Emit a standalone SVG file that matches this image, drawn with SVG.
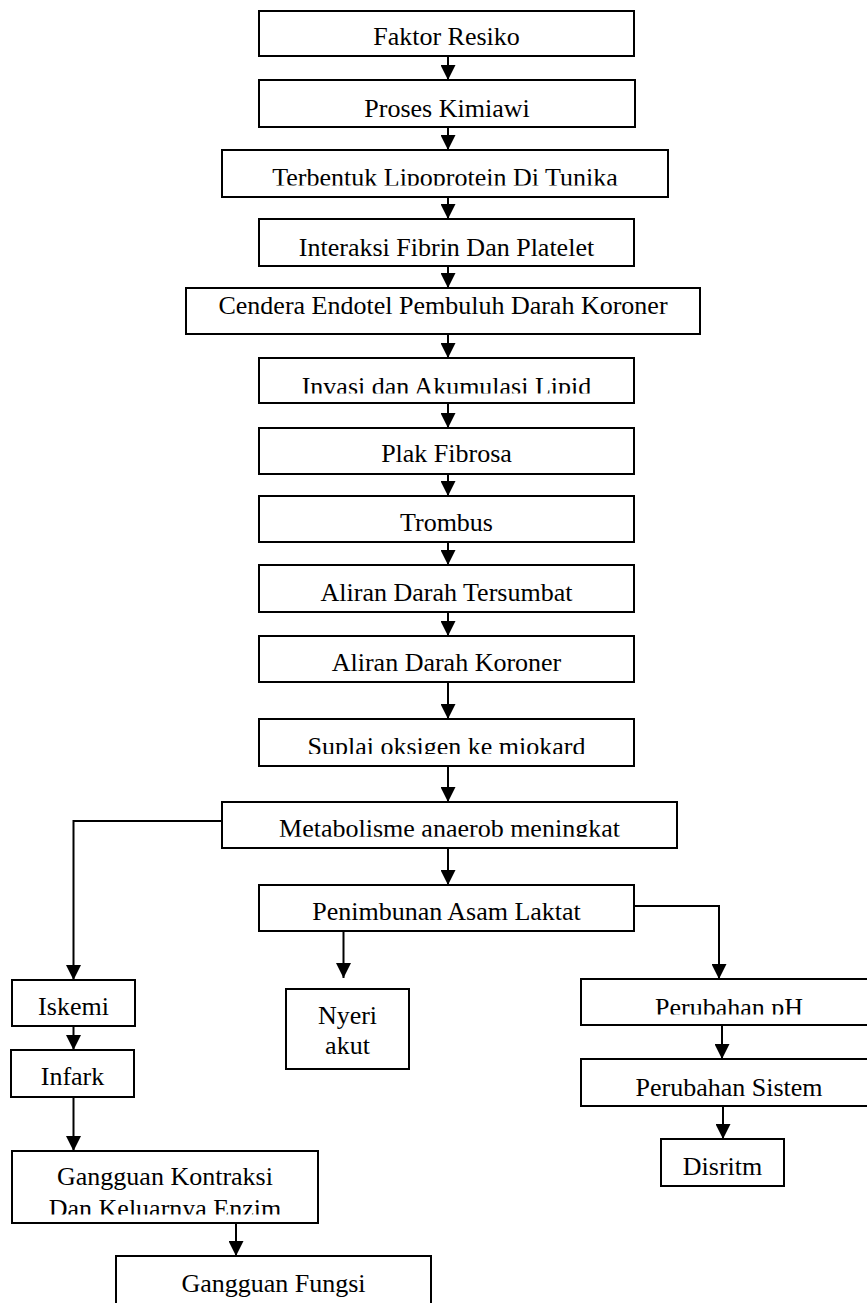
<svg xmlns="http://www.w3.org/2000/svg" width="867" height="1303" viewBox="0 0 867 1303">
<style>
rect.b{fill:#fff;stroke:#000;stroke-width:2}
text{font-family:"Liberation Serif","Times New Roman",serif;font-size:26px;fill:#000;text-anchor:middle}
.c path{fill:none;stroke:#000;stroke-width:2;marker-end:url(#ah)}
</style>
<defs>
<marker id="ah" viewBox="0 0 15 15" refX="15" refY="7.5" markerWidth="15" markerHeight="15" markerUnits="userSpaceOnUse" orient="auto">
<path d="M0,0 L15,7.5 L0,15 z" fill="#000"/>
</marker>
<clipPath id="k3" clipPathUnits="userSpaceOnUse"><rect x="222" y="150" width="446" height="35.5"/></clipPath>
<clipPath id="k6" clipPathUnits="userSpaceOnUse"><rect x="259" y="358" width="375" height="35.5"/></clipPath>
<clipPath id="k11" clipPathUnits="userSpaceOnUse"><rect x="259" y="719" width="375" height="35"/></clipPath>
<clipPath id="k12" clipPathUnits="userSpaceOnUse"><rect x="222" y="802" width="455" height="34.8"/></clipPath>
<clipPath id="kph" clipPathUnits="userSpaceOnUse"><rect x="581" y="979" width="296" height="35.5"/></clipPath>
<clipPath id="kgk" clipPathUnits="userSpaceOnUse"><rect x="12" y="1151" width="306" height="63.5"/></clipPath>
</defs>

<g id="n1"><rect class="b" x="259" y="11" width="375" height="45"/><text x="446.5" y="45">Faktor Resiko</text></g>
<g id="n2"><rect class="b" x="259" y="80" width="376" height="47"/><text x="447" y="117">Proses Kimiawi</text></g>
<g id="n3"><rect class="b" x="222" y="150" width="446" height="47"/><text x="445" y="186" clip-path="url(#k3)">Terbentuk Lipoprotein Di Tunika</text></g>
<g id="n4"><rect class="b" x="259" y="219" width="375" height="47"/><text x="446.5" y="256">Interaksi Fibrin Dan Platelet</text></g>
<g id="n5"><rect class="b" x="186" y="288" width="514" height="46"/><text x="443" y="314">Cendera Endotel Pembuluh Darah Koroner</text></g>
<g id="n6"><rect class="b" x="259" y="358" width="375" height="45"/><text x="446.5" y="394.5" clip-path="url(#k6)">Invasi dan Akumulasi Lipid</text></g>
<g id="n7"><rect class="b" x="259" y="428" width="375" height="46"/><text x="446.5" y="462">Plak Fibrosa</text></g>
<g id="n8"><rect class="b" x="259" y="496" width="375" height="46"/><text x="446.5" y="531">Trombus</text></g>
<g id="n9"><rect class="b" x="259" y="565" width="375" height="47"/><text x="446.5" y="601">Aliran Darah Tersumbat</text></g>
<g id="n10"><rect class="b" x="259" y="636" width="375" height="46"/><text x="446.5" y="671">Aliran Darah Koroner</text></g>
<g id="n11"><rect class="b" x="259" y="719" width="375" height="47"/><text x="446.5" y="754.5" clip-path="url(#k11)">Suplai oksigen ke miokard</text></g>
<g id="n12"><rect class="b" x="222" y="802" width="455" height="46"/><text x="449.5" y="836.5" clip-path="url(#k12)">Metabolisme anaerob meningkat</text></g>
<g id="n13"><rect class="b" x="259" y="885" width="375" height="46"/><text x="446.5" y="920">Penimbunan Asam Laktat</text></g>
<g id="n14"><rect class="b" x="12" y="980" width="123" height="46"/><text x="73.5" y="1015">Iskemi</text></g>
<g id="n15"><rect class="b" x="11" y="1050" width="123" height="47"/><text x="72.5" y="1085">Infark</text></g>
<g id="n16"><rect class="b" x="12" y="1151" width="306" height="72"/><g clip-path="url(#kgk)"><text x="165" y="1185">Gangguan Kontraksi</text><text x="165" y="1216.5">Dan Keluarnya Enzim</text></g></g>
<g id="n17"><rect class="b" x="116" y="1256" width="315" height="60"/><text x="273.5" y="1292">Gangguan Fungsi</text></g>
<g id="n18"><rect class="b" x="286" y="989" width="123" height="80"/><text x="347.5" y="1024">Nyeri</text><text x="347.5" y="1054">akut</text></g>
<g id="n19"><rect class="b" x="581" y="979" width="296" height="46"/><text x="729" y="1015.5" clip-path="url(#kph)">Perubahan pH</text></g>
<g id="n20"><rect class="b" x="581" y="1059" width="296" height="47"/><text x="729" y="1096">Perubahan Sistem</text></g>
<g id="n21"><rect class="b" x="661" y="1139" width="123" height="47"/><text x="722.5" y="1175">Disritm</text></g>

<g id="connectors" class="c">
<path d="M448,56 V80"/>
<path d="M448,127 V150"/>
<path d="M448,197 V219"/>
<path d="M448,266 V288"/>
<path d="M448,334 V358"/>
<path d="M448,403 V428"/>
<path d="M448,474 V496"/>
<path d="M448,542 V565"/>
<path d="M448,612 V636"/>
<path d="M448,682 V719"/>
<path d="M448,766 V802"/>
<path d="M448,848 V885"/>
<path d="M222,821 H73.5 V980"/>
<path d="M73.5,1026 V1050"/>
<path d="M73.5,1097 V1151"/>
<path d="M236,1223 V1256"/>
<path d="M343.5,931 V978"/>
<path d="M634,906 H719 V979"/>
<path d="M722,1025 V1059"/>
<path d="M723,1106 V1139"/>
</g>
</svg>
